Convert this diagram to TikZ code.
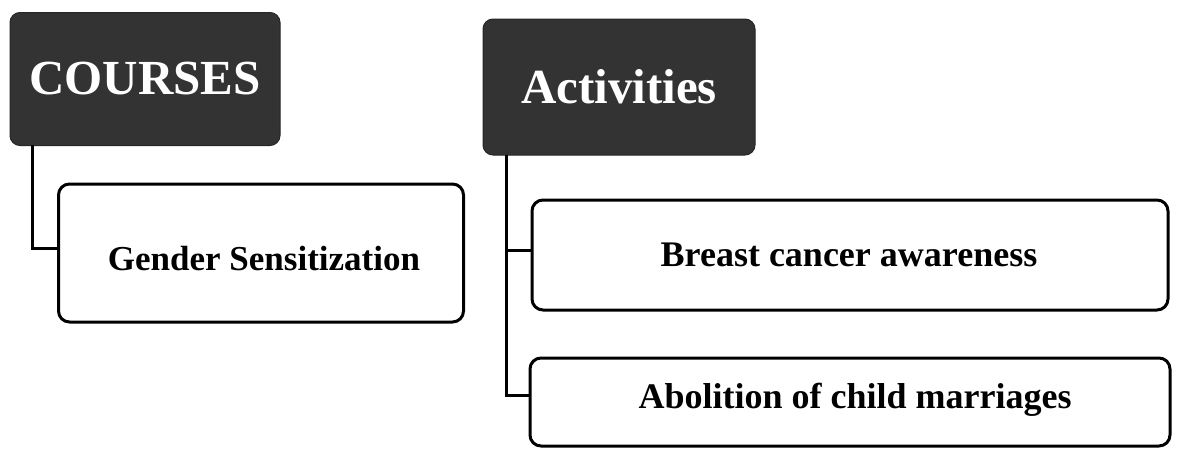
\documentclass[tikz,border=0pt]{standalone}
\usepackage{fontspec}
\setmainfont{Liberation Serif}
\begin{document}
\begin{tikzpicture}[x=1pt,y=-1pt,
  headbox/.style={draw=black!85,fill=black!80,rounded corners=10pt,line width=1pt,inner sep=0pt},
  itembox/.style={draw=black,fill=white,rounded corners=11pt,line width=3pt,inner sep=0pt},
  headtxt/.style={text=white,font=\bfseries\fontsize{49}{50}\selectfont},
  itemtxt/.style={font=\bfseries\fontsize{36}{38}\selectfont},
  conn/.style={line width=3pt,line join=miter}]
\useasboundingbox (0,0) rectangle (1178,453);
% headers
\node[headbox,minimum width=270pt,minimum height=133pt] (courses) at (145,79) {};
\node[headtxt] (coursesT) at (courses) {COURSES};
\node[headbox,minimum width=272pt,minimum height=136pt] (activ) at (619,87) {};
\node[headtxt] (activT) at (activ) {Activities};
% items
\node[itembox,minimum width=405pt,minimum height=138pt] (gender) at (261,253) {};
\node[itemtxt,font=\bfseries\fontsize{35}{37}\selectfont] (genderT) at (264,259) {Gender Sensitization};
\node[itembox,minimum width=636pt,minimum height=110pt] (breast) at (850,255) {};
\node[itemtxt] (breastT) at (849,255) {Breast cancer awareness};
\node[itembox,minimum width=640pt,minimum height=88pt] (abol) at (850,402) {};
\node[itemtxt] (abolT) at (855,400) {Abolition of child marriages};
% connectors
\coordinate (c1) at (32,248);
\draw[conn] (32,145) -- (c1) -- (c1 -| gender.west);
\coordinate (a1) at (506,250);
\coordinate (a2) at (506,395);
\draw[conn] (506,155) -- (a2) -- (a2 -| abol.west);
\draw[conn] (a1) -- (a1 -| breast.west);
\end{tikzpicture}
\end{document}
